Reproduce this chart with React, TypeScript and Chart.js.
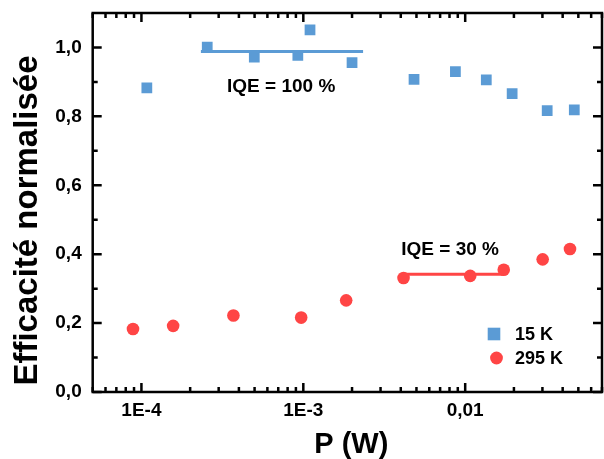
import React, { useEffect, useRef } from 'react';
import { Chart, registerables } from 'chart.js';

Chart.register(...registerables);

// ---- Data ----
const power15K = [1.08e-4, 2.55e-4, 4.98e-4, 9.25e-4, 1.1e-3, 2.0e-3, 4.83e-3, 8.7e-3, 0.0135, 0.0195, 0.0321, 0.0472];
const eff15K = [0.883, 1.001, 0.972, 0.977, 1.051, 0.956, 0.907, 0.93, 0.906, 0.866, 0.817, 0.819];
const power295K = [8.87e-5, 1.57e-4, 3.7e-4, 9.7e-4, 1.84e-3, 4.16e-3, 0.01074, 0.0173, 0.0301, 0.0444];
const eff295K = [0.183, 0.192, 0.222, 0.216, 0.266, 0.331, 0.337, 0.355, 0.385, 0.415];

const iqe100X = [2.33e-4, 2.34e-3];
const iqe100Y = [0.988, 0.988];
const iqe30X = [4.12e-3, 0.0171];
const iqe30Y = [0.342, 0.342];

const iqeLabels = ['IQE = 100 %', 'IQE = 30 %'];
const iqeLabelX = [3.38e-4, 4.03e-3];
const iqeLabelY = [0.887, 0.414];

const seriesNames = ['15 K', '295 K'];
const xTitle = 'P (W)';
const yTitle = 'Efficacité normalisée';

const xTickValues = [1e-4, 1e-3, 1e-2];
const xTickLabels = ['1E-4', '1E-3', '0,01'];
const yTickValues = [0, 0.2, 0.4, 0.6, 0.8, 1.0];
const yTickLabels = ['0,0', '0,2', '0,4', '0,6', '0,8', '1,0'];
const yMinorValues = [0.1, 0.3, 0.5, 0.7, 0.9];

const X_MIN = 5e-5;
const X_MAX = 0.07;
const Y_MIN = 0;
const Y_MAX = 1.1;

const BLUE = '#5b9bd5';
const RED = '#ff4545';
const FONT = "'Liberation Sans', Arial, sans-serif";

const zip = (xs: number[], ys: number[]) => xs.map((x, i) => ({ x, y: ys[i] }));

const framePlugin = {
  id: 'frameTicks',
  afterDraw(chart: any) {
    const { ctx, chartArea, scales } = chart;
    const { left, right, top, bottom } = chartArea;
    const xs = scales.x;
    const ys = scales.y;
    ctx.save();
    ctx.strokeStyle = '#000';
    ctx.lineWidth = 2.5;
    ctx.lineCap = 'butt';
    ctx.beginPath();
    for (let e = -6; e <= 0; e++) {
      for (let n = 1; n <= 9; n++) {
        const v = n * Math.pow(10, e);
        if (v < X_MIN * 0.999 || v > X_MAX * 1.001) continue;
        const px = xs.getPixelForValue(v);
        const len = n === 1 ? 9 : 5;
        ctx.moveTo(px, bottom);
        ctx.lineTo(px, bottom - len);
        ctx.moveTo(px, top);
        ctx.lineTo(px, top + len);
      }
    }
    const yTick = (v: number, len: number) => {
      const py = ys.getPixelForValue(v);
      ctx.moveTo(left, py);
      ctx.lineTo(left + len, py);
      ctx.moveTo(right, py);
      ctx.lineTo(right - len, py);
    };
    yTickValues.forEach((v) => yTick(v, 9));
    yMinorValues.forEach((v) => yTick(v, 5));
    ctx.stroke();
    ctx.strokeRect(left, top, right - left, bottom - top);

    // annotations
    ctx.fillStyle = '#000';
    ctx.font = `bold 19px ${FONT}`;
    ctx.textAlign = 'left';
    ctx.textBaseline = 'middle';
    iqeLabels.forEach((t, i) => {
      ctx.fillText(t, xs.getPixelForValue(iqeLabelX[i]), ys.getPixelForValue(iqeLabelY[i]));
    });

    // legend (inside plot area, lower right)
    const lx = right - 108;
    const ly1 = bottom - 58;
    const ly2 = bottom - 34;
    ctx.fillStyle = BLUE;
    ctx.fillRect(lx - 6.3, ly1 - 6.3, 12.6, 12.6);
    ctx.fillStyle = RED;
    ctx.beginPath();
    ctx.arc(lx + 2.5, ly2, 6.4, 0, Math.PI * 2);
    ctx.fill();
    ctx.fillStyle = '#000';
    ctx.font = `bold 18px ${FONT}`;
    ctx.fillText(seriesNames[0], lx + 21, ly1 + 1);
    ctx.fillText(seriesNames[1], lx + 21, ly2 + 1);

    // axis titles
    ctx.font = `bold 29px ${FONT}`;
    ctx.textAlign = 'center';
    ctx.textBaseline = 'alphabetic';
    ctx.fillText(xTitle, (left + right) / 2 + 4, 453);
    ctx.save();
    ctx.translate(37, (top + bottom) / 2 + 18);
    ctx.rotate(-Math.PI / 2);
    ctx.font = `bold 33px ${FONT}`;
    ctx.fillText(yTitle, 0, 0);
    ctx.restore();
    ctx.restore();
  },
};

export default function App() {
  const ref = useRef<HTMLCanvasElement | null>(null);
  useEffect(() => {
    if (!ref.current) return;
    const chart = new Chart(ref.current, {
      type: 'scatter',
      data: {
        datasets: [
          { label: seriesNames[0], data: zip(power15K, eff15K), pointStyle: 'rect', pointRadius: 7.6, backgroundColor: BLUE, borderWidth: 0, showLine: false },
          { label: seriesNames[1], data: zip(power295K, eff295K), pointStyle: 'circle', pointRadius: 6.3, backgroundColor: RED, borderWidth: 0, showLine: false },
          { label: 'IQE 100', data: zip(iqe100X, iqe100Y), showLine: true, borderColor: BLUE, borderWidth: 3, pointRadius: 0 },
          { label: 'IQE 30', data: zip(iqe30X, iqe30Y), showLine: true, borderColor: RED, borderWidth: 3, pointRadius: 0 },
        ],
      },
      options: {
        responsive: false,
        animation: false,
        devicePixelRatio: 1,
        layout: { autoPadding: false, padding: { top: 13, right: 2, left: 0, bottom: 0 } },
        plugins: { legend: { display: false }, tooltip: { enabled: false } },
        scales: {
          x: {
            type: 'logarithmic',
            min: X_MIN,
            max: X_MAX,
            grid: { display: false, drawTicks: false },
            border: { display: false },
            afterBuildTicks: (s: any) => {
              s.ticks = xTickValues.map((v) => ({ value: v, major: true }));
            },
            afterFit: (s: any) => {
              s.height = 67;
              s.paddingLeft = 0;
              s.paddingRight = 0;
              s.paddingTop = 0;
              s.paddingBottom = 0;
            },
            ticks: {
              autoSkip: false,
              maxRotation: 0,
              padding: 7,
              color: '#000',
              font: { family: FONT, size: 19, weight: 'bold' },
              callback: (v: any) => {
                const i = xTickValues.findIndex((t) => Math.abs(t - v) / t < 1e-6);
                return i >= 0 ? xTickLabels[i] : '';
              },
            },
          },
          y: {
            type: 'linear',
            min: Y_MIN,
            max: Y_MAX,
            grid: { display: false, drawTicks: false },
            border: { display: false },
            afterBuildTicks: (s: any) => {
              s.ticks = yTickValues.map((v) => ({ value: v }));
            },
            afterFit: (s: any) => {
              s.width = 92.7;
              s.paddingLeft = 0;
              s.paddingRight = 0;
              s.paddingTop = 0;
              s.paddingBottom = 0;
            },
            ticks: {
              autoSkip: false,
              padding: 11,
              color: '#000',
              font: { family: FONT, size: 19, weight: 'bold' },
              callback: (v: any) => {
                const i = yTickValues.findIndex((t) => Math.abs(t - v) < 1e-6);
                return i >= 0 ? yTickLabels[i] : '';
              },
            },
          },
        },
      },
      plugins: [framePlugin],
    } as any);
    return () => chart.destroy();
  }, []);
  return (
    <div style={{ position: 'absolute', left: 0, top: 0, width: 604, height: 459, background: '#fff' }}>
      <canvas ref={ref} width={604} height={459} />
    </div>
  );
}
